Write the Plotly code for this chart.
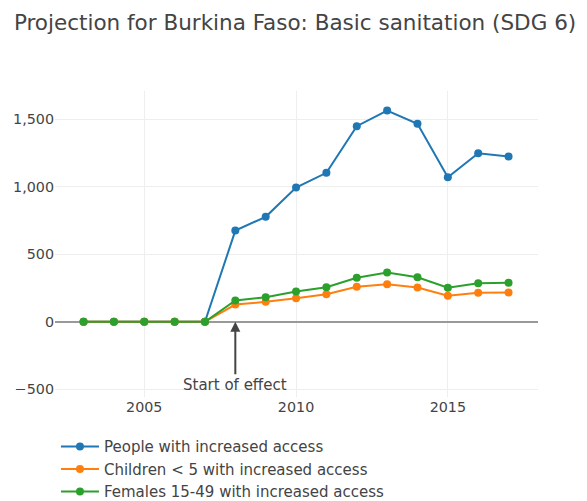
import plotly.graph_objects as go

years = list(range(2003, 2018))
people = [0, 0, 0, 0, 0, 676, 778, 995, 1104, 1449, 1565, 1467, 1071, 1249, 1224]
children = [0, 0, 0, 0, 0, 128, 148, 175, 204, 259, 278, 254, 193, 215, 217]
females = [0, 0, 0, 0, 0, 158, 182, 224, 256, 326, 365, 330, 252, 286, 289]

series_names = ["People with increased access",
                "Children < 5 with increased access",
                "Females 15-49 with increased access"]
colors = ["#1f77b4", "#ff7f0e", "#2ca02c"]

effect_year = 2008
effect_label = "Start of effect"
title_text = "Projection for Burkina Faso: Basic sanitation (SDG 6)"

fig = go.Figure()
for name, vals, col in zip(series_names, [people, children, females], colors):
    fig.add_trace(go.Scatter(x=years, y=vals, name=name, mode="lines+markers",
                             line=dict(color=col, width=2),
                             marker=dict(color=col, size=8)))

font_family = "DejaVu Sans"
fig.add_annotation(x=effect_year, y=0, text=effect_label, showarrow=True,
                   ax=0, ay=63, arrowhead=2, arrowsize=1, arrowwidth=2,
                   arrowcolor="#444", font=dict(size=15, color="#444", family=font_family))

fig.update_layout(
    width=587, height=501,
    title=dict(text=title_text, x=0.489, xanchor="center", y=0.972, yanchor="middle",
               font=dict(size=21.5, color="#444", family=font_family)),
    font=dict(family=font_family, size=15, color="#444"),
    paper_bgcolor="white", plot_bgcolor="white",
    margin=dict(l=47, r=57, t=83, b=112),
    showlegend=True,
    legend=dict(orientation="v", x=0.002, xanchor="left", yref="container",
                y=0.157, yanchor="top", tracegroupgap=0, itemwidth=38,
                font=dict(size=15, color="#444", family=font_family),
                bgcolor="rgba(0,0,0,0)"),
    xaxis=dict(range=[2002.06, 2017.97], showgrid=True, gridcolor="#eee",
               zeroline=False, showline=False, tickvals=[2005, 2010, 2015],
               ticks="", tickfont=dict(size=14.3), automargin=False),
    yaxis=dict(range=[-557, 1710], showgrid=True, gridcolor="#eee",
               zeroline=True, zerolinecolor="#999", zerolinewidth=2,
               showline=False, tickvals=[-500, 0, 500, 1000, 1500],
               tickformat=",", ticks="", tickfont=dict(size=14.3), automargin=False),
)

fig.write_html("out.html")
